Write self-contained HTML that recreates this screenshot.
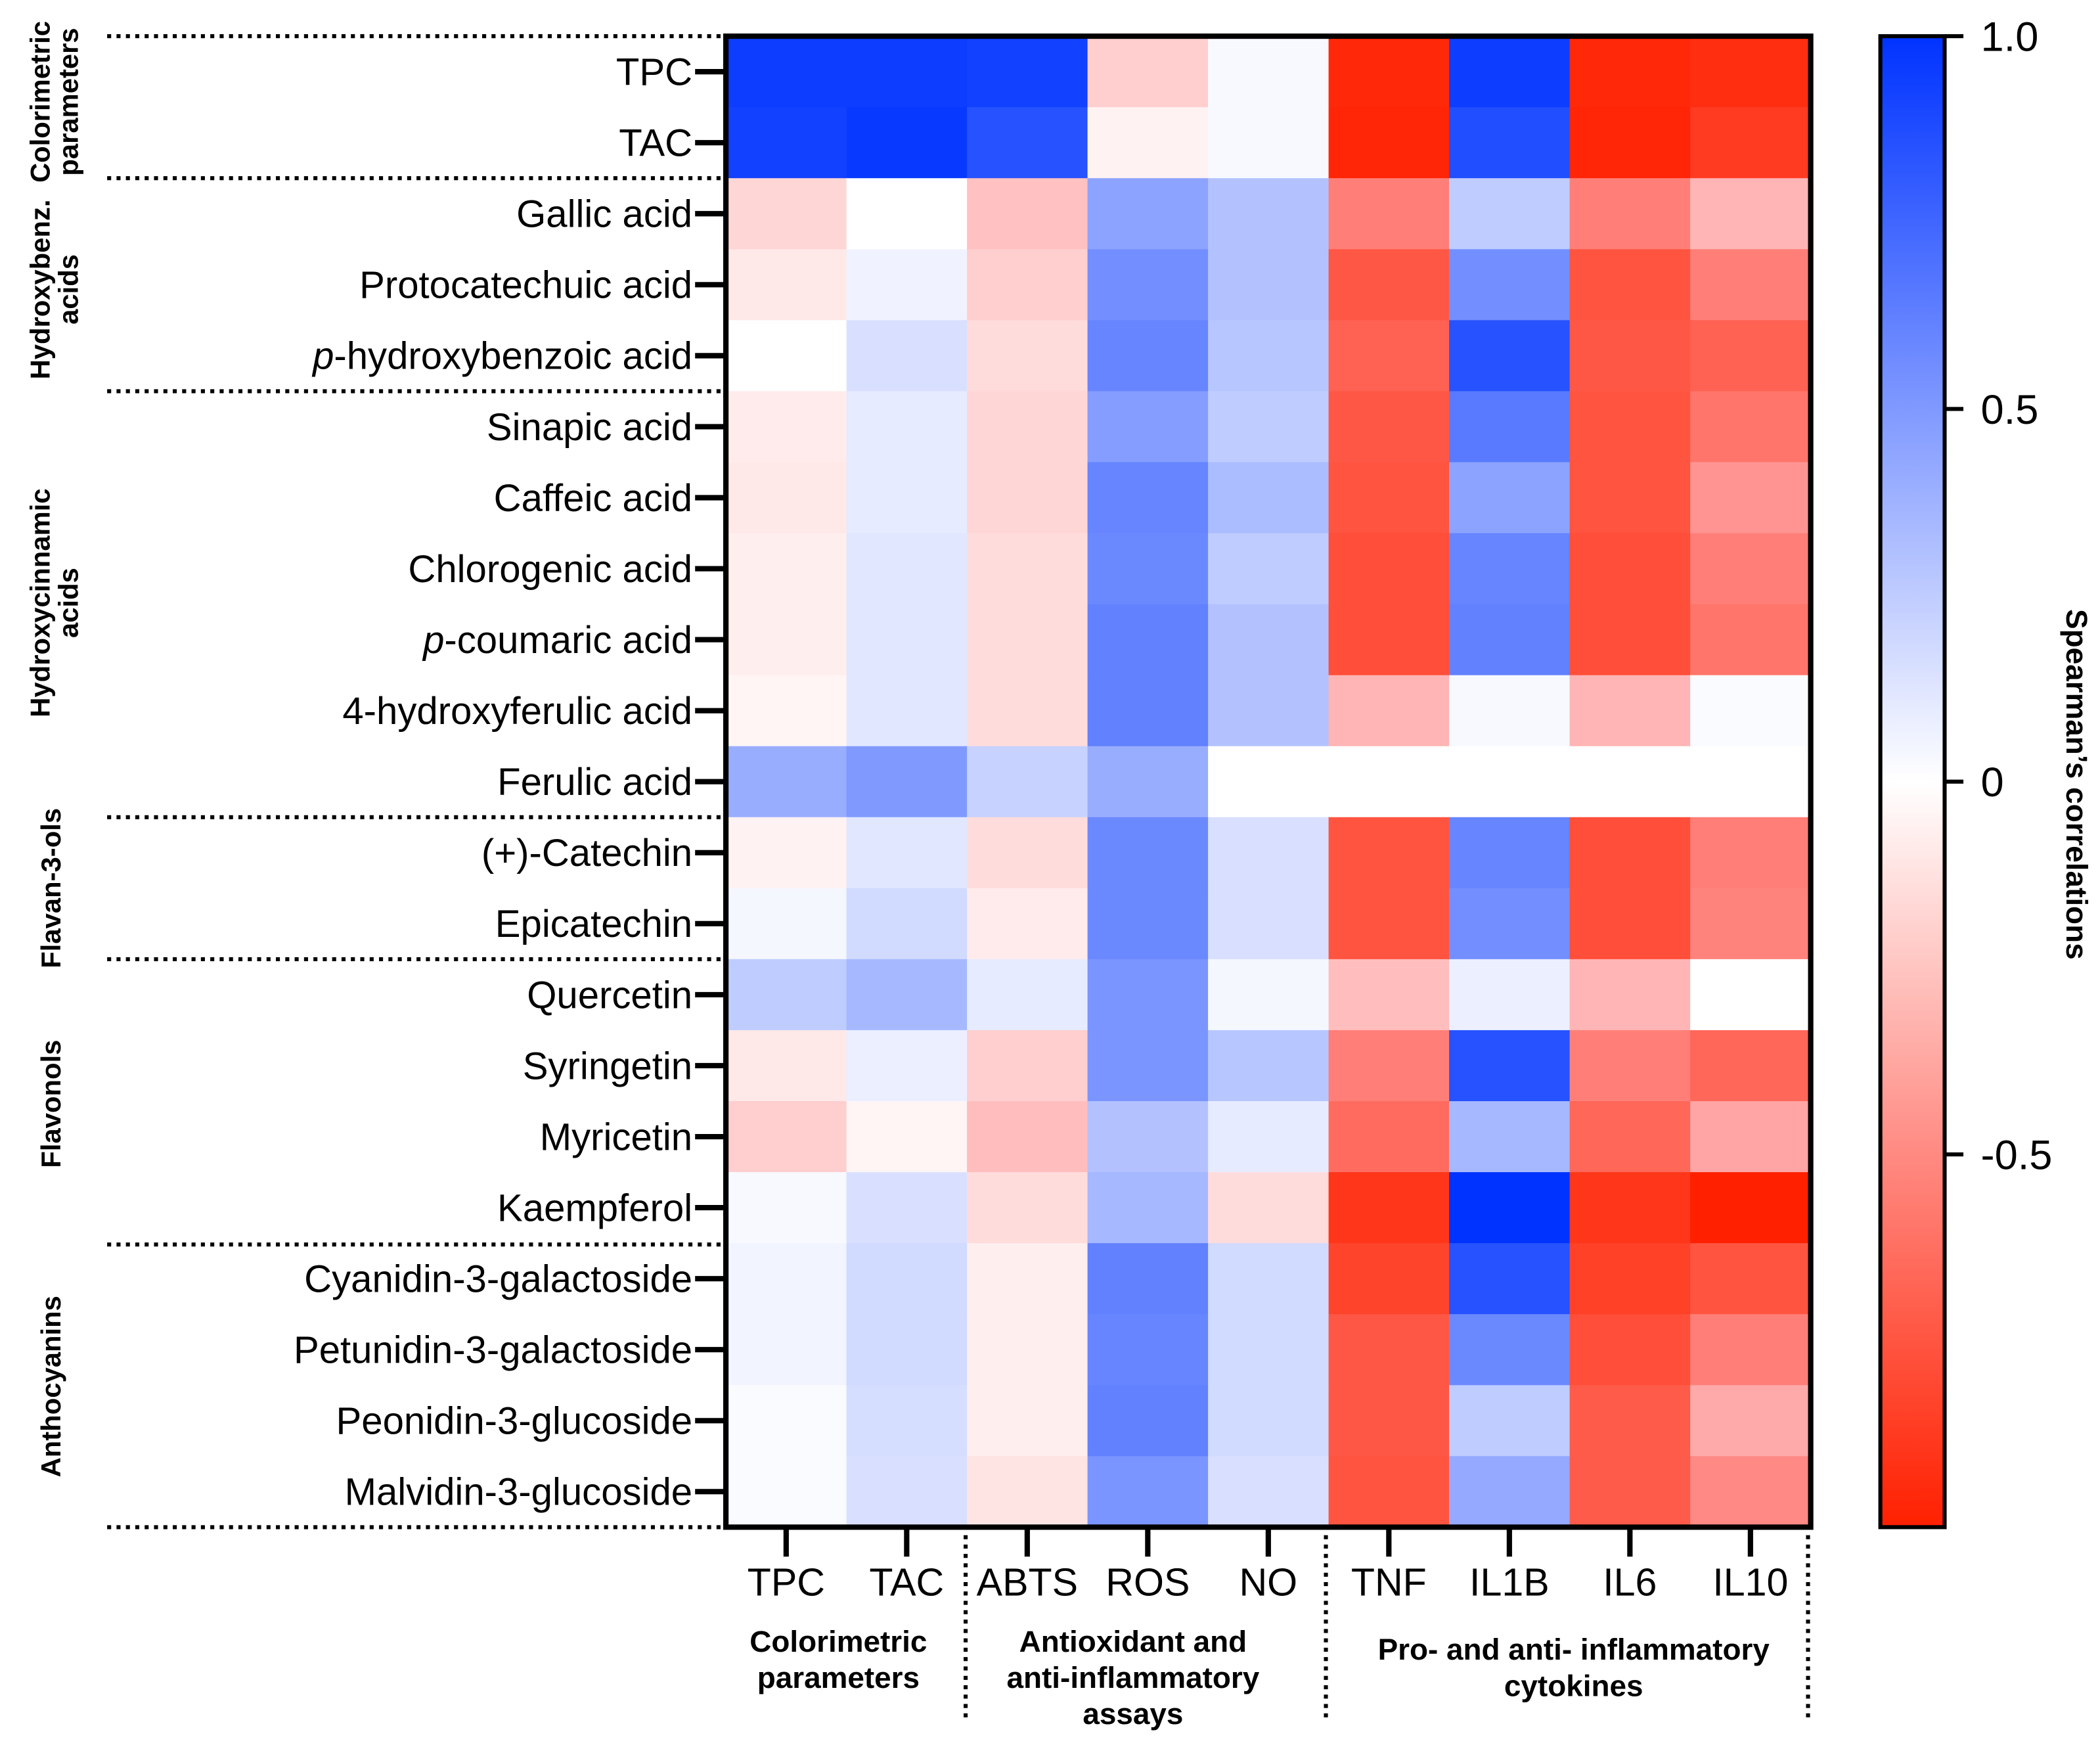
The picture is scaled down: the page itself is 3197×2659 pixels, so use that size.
<!DOCTYPE html>
<html><head><meta charset="utf-8"><style>
html,body{margin:0;padding:0;background:#fff;}
svg{display:block;font-family:"Liberation Sans",Arial,sans-serif;}
</style></head><body>
<svg id="chart" width="3197" height="2659" viewBox="0 0 1568 1304.1" xmlns="http://www.w3.org/2000/svg">
<defs>
<linearGradient id="cbar" x1="0" y1="0" x2="0" y2="1">
<stop offset="0" stop-color="#0033ff"/><stop offset="0.5" stop-color="#ffffff"/><stop offset="0.75" stop-color="#ff8a82"/><stop offset="1" stop-color="#ff2000"/>
</linearGradient>
</defs>
<g id="cells"></g>
<g id="axes"></g>
</svg>
<script>
const rowLabels=["TPC","TAC","Gallic acid","Protocatechuic acid","p-hydroxybenzoic acid","Sinapic acid","Caffeic acid","Chlorogenic acid","p-coumaric acid","4-hydroxyferulic acid","Ferulic acid","(+)-Catechin","Epicatechin","Quercetin","Syringetin","Myricetin","Kaempferol","Cyanidin-3-galactoside","Petunidin-3-galactoside","Peonidin-3-glucoside","Malvidin-3-glucoside"];
const colLabels=["TPC","TAC","ABTS","ROS","NO","TNF","IL1B","IL6","IL10"];
const values=[
[0.95,0.95,0.93,-0.15,0.03,-0.95,0.95,-0.95,-0.92],
[0.93,0.97,0.85,-0.03,0.03,-0.97,0.87,-0.97,-0.85],
[-0.12,0.0,-0.2,0.45,0.3,-0.5,0.25,-0.5,-0.25],
[-0.06,0.06,-0.15,0.55,0.3,-0.7,0.55,-0.72,-0.5],
[0.0,0.15,-0.1,0.6,0.28,-0.65,0.85,-0.7,-0.65],
[-0.05,0.1,-0.12,0.48,0.25,-0.7,0.65,-0.72,-0.55],
[-0.06,0.1,-0.12,0.6,0.33,-0.72,0.45,-0.72,-0.4],
[-0.04,0.12,-0.1,0.58,0.25,-0.75,0.6,-0.75,-0.5],
[-0.04,0.12,-0.1,0.62,0.3,-0.75,0.62,-0.75,-0.55],
[-0.02,0.12,-0.1,0.62,0.3,-0.25,0.03,-0.25,0.02],
[0.4,0.5,0.22,0.4,0.0,0.0,0.0,0.0,0.0],
[-0.03,0.12,-0.1,0.58,0.15,-0.72,0.6,-0.75,-0.5],
[0.04,0.18,-0.05,0.58,0.15,-0.72,0.55,-0.75,-0.48],
[0.25,0.35,0.1,0.52,0.04,-0.22,0.08,-0.25,0.0],
[-0.06,0.08,-0.15,0.52,0.28,-0.5,0.85,-0.5,-0.62],
[-0.15,-0.02,-0.22,0.3,0.1,-0.6,0.35,-0.62,-0.32],
[0.03,0.15,-0.1,0.35,-0.1,-0.88,1.0,-0.88,-1.0],
[0.05,0.18,-0.04,0.62,0.18,-0.8,0.85,-0.82,-0.72],
[0.05,0.18,-0.04,0.6,0.18,-0.7,0.58,-0.75,-0.5],
[0.02,0.16,-0.04,0.62,0.18,-0.7,0.25,-0.68,-0.3],
[0.02,0.15,-0.07,0.52,0.15,-0.72,0.42,-0.68,-0.45]];
const cbarTicks=[1,0.5,0,-0.5];
const cbarTickLabels=["1.0","0.5","0","-0.5"];

const NS="http://www.w3.org/2000/svg";
const X0=542,X1=1352,Y0=27,Y1=1140;
const cw=(X1-X0)/colLabels.length, rh=(Y1-Y0)/rowLabels.length;
const xPos=i=>X0+i*cw, yPos=j=>Y0+j*rh;
const cbY=v=>Y0+(1-v)/2*(Y1-Y0);
function color(v){
  v=Math.max(-1,Math.min(1,v));
  let t=Math.abs(v);
  if(v>=0){
    return `rgb(${Math.round(255*(1-t))},${Math.round(255-204*t)},255)`;
  }
  const g=Math.round(255-(255-32)*Math.pow(t,0.8));
  const b=Math.round(255*Math.pow(1-t,1.1)*(1-0.15*t));
  return `rgb(255,${g},${Math.min(g,b+Math.round(40*t*(1-t)))})`;
}
function mk(tag,attrs,parent,text){const e=document.createElementNS(NS,tag);for(const k in attrs)e.setAttribute(k,attrs[k]);if(text!==undefined)e.textContent=text;parent.appendChild(e);return e;}
const cells=document.getElementById('cells'), ax=document.getElementById('axes');
values.forEach((row,j)=>row.forEach((v,i)=>{
  const r=mk('rect',{x:xPos(i),y:yPos(j),width:cw+0.5,height:rh+0.5,fill:color(v)},cells);
  
  
}));
const fr=mk('rect',{x:X0,y:Y0,width:X1-X0,height:Y1-Y0,fill:'none',stroke:'#000','stroke-width':4},ax);


rowLabels.forEach((l,j)=>{
  const yc=yPos(j)+rh/2;
  mk('line',{x1:519,x2:542,y1:yc,y2:yc,stroke:'#000','stroke-width':4},ax);
  const t=mk('text',{x:517,y:yc+10,'text-anchor':'end','font-size':28.5},ax);
  
  
  if(l.startsWith('p-')){mk('tspan',{'font-style':'italic'},t,'p');mk('tspan',{},t,l.slice(1));}else t.textContent=l;
});
colLabels.forEach((l,i)=>{
  const xc=xPos(i)+cw/2;
  mk('line',{x1:xc,x2:xc,y1:1140,y2:1162,stroke:'#000','stroke-width':4},ax);
  const t=mk('text',{x:xc,y:1191,'text-anchor':'middle','font-size':29},ax,l);
  
  
});
[27,133,292,610,716,929,1140].forEach(y=>{
  mk('line',{x1:80,x2:540,y1:y,y2:y,stroke:'#000','stroke-width':3,'stroke-dasharray':'3,4'},ax);
});
[721,990,1350].forEach(x=>{
  mk('line',{x1:x,x2:x,y1:1146,y2:1282,stroke:'#000','stroke-width':3,'stroke-dasharray':'3,4'},ax);
});
const groupsBottom=[[626,["Colorimetric","parameters"]],[846,["Antioxidant and","anti-inflammatory","assays"]],[1175,["Pro- and anti- inflammatory","cytokines"]]];
groupsBottom.forEach(([x,lines])=>{
  const t=mk('text',{'text-anchor':'middle','font-size':22.5,'font-weight':'bold'},ax);
  
  
  lines.forEach((s,k)=>mk('tspan',{x:x,y:(lines.length==2&&x>1000?1239:1233)+k*27},t,s));
});
const groupsLeft=[[76,["Colorimetric","parameters"]],[216,["Hydroxybenz.","acids"]],[450,["Hydroxycinnamic","acids"]],[663,["Flavan-3-ols"]],[824,["Flavonols"]],[1035,["Anthocyanins"]]];
groupsLeft.forEach(([y,lines])=>{
  const x=lines.length==2?37:45;
  const t=mk('text',{'text-anchor':'middle','font-size':20.5,'font-weight':'bold',transform:`translate(${x},${y}) rotate(-90)`},ax);
  
  
  lines.forEach((s,k)=>mk('tspan',{x:0,y:k*21},t,s));
});
const cb=mk('rect',{x:1404,y:Y0,width:48,height:Y1-Y0,fill:'url(#cbar)',stroke:'#000','stroke-width':3},ax);


cbarTicks.forEach((v,k)=>{
  const y=cbY(v);
  mk('line',{x1:1452,x2:1466,y1:y,y2:y,stroke:'#000','stroke-width':3},ax);
  const t=mk('text',{x:1479,y:y+11,'font-size':31},ax,cbarTickLabels[k]);
  
  
});
const ct=mk('text',{'text-anchor':'middle','font-size':22.5,'font-weight':'bold',transform:`translate(1543,${cbY(0)+2}) rotate(90)`},ax,"Spearman’s correlations");


</script>
</body></html>
